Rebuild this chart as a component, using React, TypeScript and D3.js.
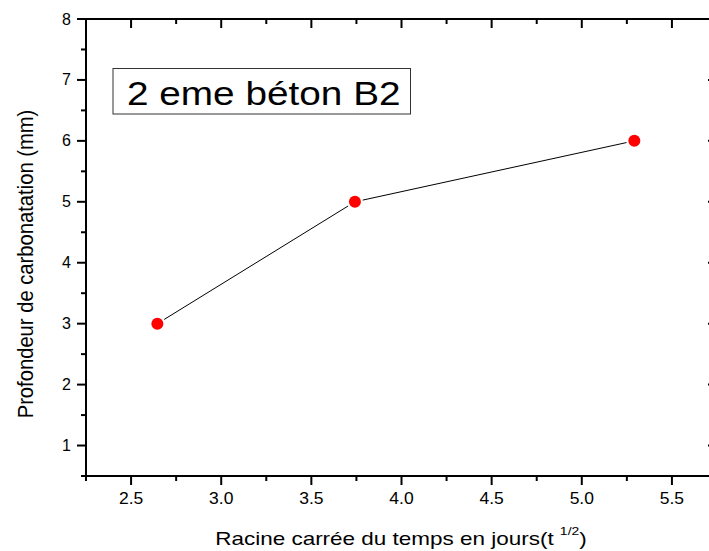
import React from "react";
import * as d3 from "d3";

const xValues = [Math.sqrt(7), Math.sqrt(14), Math.sqrt(28)];
const yValues = [3, 5, 6];
const xMajorTicks = [2.5, 3.0, 3.5, 4.0, 4.5, 5.0, 5.5];
const xMinorTicks = [2.25, 2.75, 3.25, 3.75, 4.25, 4.75, 5.25, 5.75];
const yMajorTicks = [1, 2, 3, 4, 5, 6, 7, 8];
const yMinorTicks = [0.5, 1.5, 2.5, 3.5, 4.5, 5.5, 6.5, 7.5];
const chartLabel = "2 eme béton B2";
const xTitle = "Racine carrée du temps en jours(t ";
const xTitleSup = "1/2";
const yTitle = "Profondeur de carbonatation (mm)";

const W = 709;
const H = 551;
const FONT = "'Liberation Sans', Arial, Helvetica, sans-serif";

export default function App() {
  const x = d3.scaleLinear().domain([2.25, 5.75]).range([86, 717]);
  const y = d3.scaleLinear().domain([0.5, 8]).range([476, 19]);
  const left = x.range()[0];
  const right = x.range()[1];
  const top = y.range()[1];
  const bottom = y.range()[0];
  const major = 9;
  const minor = 5;
  const r = 6;
  const gap = r + 2;

  const pts = xValues.map((v, i) => [x(v), y(yValues[i])]);
  const segs = [];
  for (let i = 0; i < pts.length - 1; i++) {
    const [x1, y1] = pts[i];
    const [x2, y2] = pts[i + 1];
    const len = Math.hypot(x2 - x1, y2 - y1);
    const ux = (x2 - x1) / len;
    const uy = (y2 - y1) / len;
    segs.push([x1 + ux * gap, y1 + uy * gap, x2 - ux * gap, y2 - uy * gap]);
  }

  return (
    <svg
      width={W}
      height={H}
      style={{ position: "absolute", left: 0, top: 0, background: "#fff" }}
      fontFamily={FONT}
    >
      <rect x={0} y={0} width={W} height={H} fill="#fff" />
      {/* label box */}
      <rect x={113} y={68.5} width={297.5} height={45.5} fill="#fff" stroke="#333" strokeWidth={1} />
      <g transform="translate(127,105) scale(1.14,1)">
        <text x={0} y={0} fontSize={34} fill="#000">{chartLabel}</text>
      </g>

      {/* connecting line */}
      {segs.map((s, i) => (
        <line key={i} x1={s[0]} y1={s[1]} x2={s[2]} y2={s[3]} stroke="#000" strokeWidth={1} />
      ))}
      {pts.map((p, i) => (
        <circle key={i} cx={p[0]} cy={p[1]} r={r} fill="#ff0000" />
      ))}

      {/* axes lines */}
      <g stroke="#000" strokeWidth={2} strokeLinecap="square">
        <line x1={left} y1={bottom} x2={right} y2={bottom} />
        <line x1={left} y1={top} x2={right} y2={top} />
        <line x1={left} y1={top} x2={left} y2={bottom} />
        <line x1={right} y1={top} x2={right} y2={bottom} />
      </g>

      {/* ticks */}
      <g stroke="#000" strokeWidth={2}>
        {xMajorTicks.map((t) => (
          <g key={"xm" + t}>
            <line x1={x(t)} x2={x(t)} y1={bottom} y2={bottom + major} />
            <line x1={x(t)} x2={x(t)} y1={top} y2={top + major} />
          </g>
        ))}
        {xMinorTicks.map((t) => (
          <g key={"xn" + t}>
            <line x1={x(t)} x2={x(t)} y1={bottom} y2={bottom + minor} />
            <line x1={x(t)} x2={x(t)} y1={top} y2={top + minor} />
          </g>
        ))}
        {yMajorTicks.map((t) => (
          <g key={"ym" + t}>
            <line x1={left - major} x2={left} y1={y(t)} y2={y(t)} />
            <line x1={right - major} x2={right} y1={y(t)} y2={y(t)} />
          </g>
        ))}
        {yMinorTicks.map((t) => (
          <g key={"yn" + t}>
            <line x1={left - minor} x2={left} y1={y(t)} y2={y(t)} />
            <line x1={right - minor} x2={right} y1={y(t)} y2={y(t)} />
          </g>
        ))}
      </g>

      {/* tick labels */}
      {xMajorTicks.map((t) => (
        <g key={"xl" + t} transform={`translate(${x(t)},504) scale(1.08,1)`}>
          <text x={0} y={0} fontSize={16.2} textAnchor="middle" fill="#000">
            {d3.format(".1f")(t)}
          </text>
        </g>
      ))}
      {yMajorTicks.map((t) => (
        <text key={"yl" + t} x={71} y={y(t) + 5.5} fontSize={16} textAnchor="end" fill="#000">
          {t}
        </text>
      ))}

      {/* axis titles */}
      <g transform="translate(401,545) scale(1.27,1)">
        <text x={0} y={0} fontSize={17.7} textAnchor="middle" fill="#000">
          {xTitle}
          <tspan fontSize={11} dy={-10}>{xTitleSup}</tspan>
          <tspan dy={10}>)</tspan>
        </text>
      </g>
      <g transform="translate(32.5, 264) rotate(-90) scale(1,1.05)">
        <text x={0} y={0} fontSize={20.2} textAnchor="middle" fill="#000">
          {yTitle}
        </text>
      </g>
    </svg>
  );
}
